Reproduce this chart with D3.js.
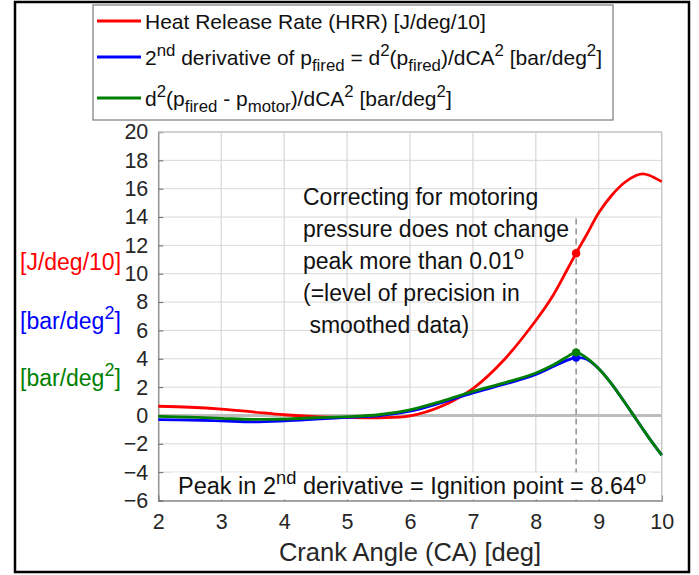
<!DOCTYPE html>
<html>
<head>
<meta charset="utf-8">
<script src="https://cdn.jsdelivr.net/npm/d3@7"></script>
<style>
  body { margin: 0; background: #fff; }
  svg { font-family: "Liberation Sans", Arial, sans-serif; }
</style>
</head>
<body>
<svg id="chart" width="699" height="575"></svg>
<script>
// crank angle samples [deg]
var ca = [2, 2.5, 3, 3.5, 4, 4.5, 5, 5.5, 6, 6.5, 7, 7.5, 8, 8.25, 8.5, 8.64, 8.8, 9, 9.2, 9.4, 9.6, 9.7, 9.8, 10];
// heat release rate [J/deg/10]
var hrr = [0.65, 0.58, 0.45, 0.25, 0.05, -0.08, -0.14, -0.16, -0.03, 0.65, 1.9, 3.95, 6.7, 8.3, 10.3, 11.45, 12.7, 14.3, 15.5, 16.4, 16.95, 17.05, 16.95, 16.5];
// d2(p_fired)/dCA2 [bar/deg2]
var d2fired = [-0.3, -0.32, -0.38, -0.45, -0.38, -0.26, -0.13, -0.02, 0.3, 0.9, 1.6, 2.2, 2.9, 3.4, 3.9, 4.08, 3.98, 3.3, 2.25, 1.0, -0.3, -0.95, -1.6, -2.8];
// d2(p_fired - p_motor)/dCA2 [bar/deg2]
var d2corr = [-0.07, -0.12, -0.2, -0.28, -0.25, -0.16, -0.08, 0.05, 0.4, 1.0, 1.7, 2.3, 3.0, 3.5, 4.15, 4.45, 4.08, 3.3, 2.25, 1.0, -0.3, -0.95, -1.6, -2.8];

var ignition = 8.64;
var xTicks = [2, 3, 4, 5, 6, 7, 8, 9, 10];
var yTicks = [-6, -4, -2, 0, 2, 4, 6, 8, 10, 12, 14, 16, 18, 20];

var svg = d3.select("#chart");

// figure frame
svg.append("rect")
  .attr("x", 15).attr("y", 2)
  .attr("width", 674).attr("height", 570)
  .attr("fill", "none").attr("stroke", "#000").attr("stroke-width", 2.5);

var x = d3.scaleLinear().domain([2, 10]).range([158.3, 661.7]);
var y = d3.scaleLinear().domain([-6, 20]).range([500.5, 132]);

// grid
var grid = svg.append("g");
grid.selectAll(".gx").data(xTicks).enter().append("line")
  .attr("x1", d => x(d)).attr("x2", d => x(d))
  .attr("y1", y(-6)).attr("y2", y(20))
  .attr("stroke", "#cfcfcf").attr("stroke-width", 1);
grid.selectAll(".gy").data(yTicks).enter().append("line")
  .attr("x1", x(2)).attr("x2", x(10))
  .attr("y1", d => y(d)).attr("y2", d => y(d))
  .attr("stroke", "#d8d8d8").attr("stroke-width", 1);

// zero line
svg.append("line")
  .attr("x1", x(2)).attr("x2", x(10))
  .attr("y1", y(0)).attr("y2", y(0))
  .attr("stroke", "#bdbdbd").attr("stroke-width", 3);

// axes
var xAxis = svg.append("g")
  .attr("transform", "translate(0," + y(-6) + ")")
  .call(d3.axisBottom(x).tickValues(xTicks).tickSize(-5).tickPadding(13));
var yAxis = svg.append("g")
  .attr("transform", "translate(" + x(2) + ",0)")
  .call(d3.axisLeft(y).tickValues(yTicks).tickSize(-5).tickPadding(10));
[xAxis, yAxis].forEach(function(a) {
  a.select(".domain").attr("stroke", "#8a8a8a").attr("stroke-width", 1.3);
  a.selectAll(".tick line").attr("stroke", "#6a6a6a");
  a.selectAll("text").attr("fill", "#262626")
    .style("font-size", "21.5px").style("font-family", "Liberation Sans, Arial, sans-serif");
});
xAxis.selectAll("text").attr("dy", "0.71em");

// top and right box edges
svg.append("line").attr("x1", x(2)).attr("x2", x(10)).attr("y1", y(20)).attr("y2", y(20))
  .attr("stroke", "#c8c8c8").attr("stroke-width", 1.3);
svg.append("line").attr("x1", x(10)).attr("x2", x(10)).attr("y1", y(20)).attr("y2", y(-6))
  .attr("stroke", "#c8c8c8").attr("stroke-width", 1.3);

// dashed ignition marker
svg.append("line")
  .attr("x1", x(ignition)).attr("x2", x(ignition))
  .attr("y1", y(13.9)).attr("y2", y(-6))
  .attr("stroke", "#7f7f7f").attr("stroke-width", 1.3)
  .attr("stroke-dasharray", "6,4");

// curves
var series = [
  {name: "hrr", values: hrr, color: "#ff0000"},
  {name: "fired", values: d2fired, color: "#0000ff"},
  {name: "corr", values: d2corr, color: "#008000"}
];
var line = d3.line()
  .x(function(d, i) { return x(ca[i]); })
  .y(function(d) { return y(d); })
  .curve(d3.curveCatmullRom.alpha(0.5));

svg.selectAll(".curve").data(series).enter().append("path")
  .attr("class", "curve")
  .attr("d", function(s) { return line(s.values); })
  .attr("fill", "none")
  .attr("stroke", function(s) { return s.color; })
  .attr("stroke-width", 2.8);

// peak markers
var iPeak = ca.indexOf(ignition);
svg.selectAll(".dot").data(series).enter().append("circle")
  .attr("cx", x(ignition))
  .attr("cy", function(s) { return y(s.values[iPeak]); })
  .attr("r", 4.2)
  .attr("fill", function(s) { return s.color; });

// rich text helper: parts are strings or [text, "sup"|"sub"]
function rich(t, parts, size, ratio) {
  var small = size * (ratio || 0.78);
  var shift = 0;
  parts.forEach(function(p) {
    var txt = typeof p === "string" ? p : p[0];
    var kind = typeof p === "string" ? "n" : p[1];
    var target = kind === "sup" ? -size * 0.42 : kind === "sub" ? size * 0.33 : 0;
    t.append("tspan")
      .attr("dy", target - shift)
      .style("font-size", (kind === "n" ? size : small) + "px")
      .text(txt);
    shift = target;
  });
}

// annotation
var note = [
  ["Correcting for motoring"],
  ["pressure does not change"],
  ["peak more than 0.01", ["o", "sup"]],
  ["(=level of precision in"],
  ["\u00a0smoothed data)"]
];
note.forEach(function(parts, i) {
  var t = svg.append("text")
    .attr("x", 303).attr("y", 205 + i * 32)
    .attr("fill", "#111");
  rich(t, parts, 23);
});

// bottom label with white background
svg.append("rect")
  .attr("x", 172).attr("y", 472.5)
  .attr("width", 480).attr("height", 27)
  .attr("fill", "#fff");
var bt = svg.append("text").attr("x", 178).attr("y", 494).attr("fill", "#111");
rich(bt, ["Peak in 2", ["nd", "sup"], " derivative = Ignition point = 8.64", ["o", "sup"]], 23.5);

// y labels
var yLabels = [
  {parts: ["[J/deg/10]"], color: "#ff0000", y: 270},
  {parts: ["[bar/deg", ["2", "sup"], "]"], color: "#0000ff", y: 329},
  {parts: ["[bar/deg", ["2", "sup"], "]"], color: "#008000", y: 386}
];
yLabels.forEach(function(l) {
  var t = svg.append("text").attr("x", 20).attr("y", l.y).attr("fill", l.color);
  rich(t, l.parts, 23);
});

// x title
svg.append("text")
  .attr("x", x(6)).attr("y", 561)
  .attr("text-anchor", "middle")
  .attr("fill", "#262626")
  .style("font-size", "25.5px")
  .text("Crank Angle (CA) [deg]");

// legend
var leg = svg.append("g");
leg.append("rect")
  .attr("x", 93).attr("y", 5)
  .attr("width", 520).attr("height", 115)
  .attr("fill", "#fff").attr("stroke", "#7a7a7a").attr("stroke-width", 1.2);
var legItems = [
  {color: "#ff0000", y: 21, parts: ["Heat Release Rate (HRR) [J/deg/10]"]},
  {color: "#0000ff", y: 57, parts: ["2", ["nd", "sup"], " derivative of p", ["fired", "sub"], " = d", ["2", "sup"], "(p", ["fired", "sub"], ")/dCA", ["2", "sup"], " [bar/deg", ["2", "sup"], "]"]},
  {color: "#008000", y: 98, parts: ["d", ["2", "sup"], "(p", ["fired", "sub"], " - p", ["motor", "sub"], ")/dCA", ["2", "sup"], " [bar/deg", ["2", "sup"], "]"]}
];
legItems.forEach(function(it) {
  leg.append("line")
    .attr("x1", 97).attr("x2", 141)
    .attr("y1", it.y).attr("y2", it.y)
    .attr("stroke", it.color).attr("stroke-width", 2.8);
  var t = leg.append("text").attr("x", 145).attr("y", it.y + 7.5).attr("fill", "#111");
  rich(t, it.parts, 21, 0.8);
});
</script>
</body>
</html>
